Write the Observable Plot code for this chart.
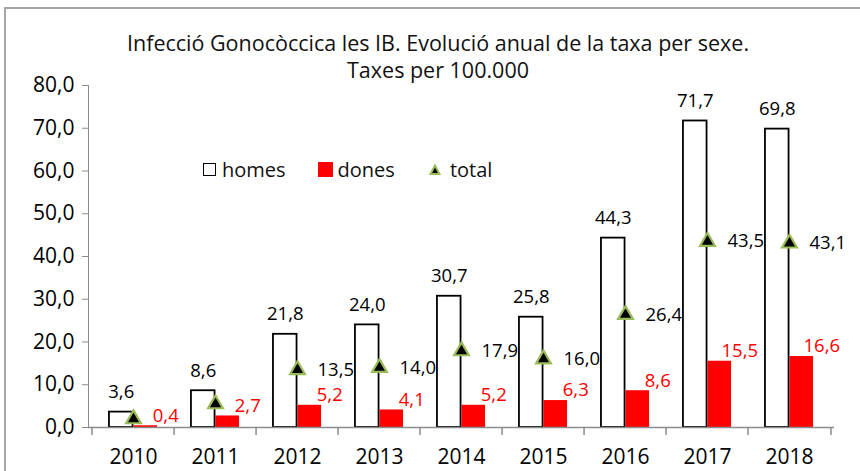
<!DOCTYPE html>
<html>
<head>
<meta charset="utf-8">
<script src="https://cdn.jsdelivr.net/npm/d3@7"></script>
<script src="https://cdn.jsdelivr.net/npm/@observablehq/plot@0.6"></script>
<style>
  html, body { margin: 0; padding: 0; background: #fff; }
  #wrap { position: relative; width: 860px; height: 471px; overflow: hidden; font-family: "Open Sans", sans-serif; }
  #frame { position: absolute; left: 4px; top: 7px; width: 900px; height: 520px; border: 2px solid #a6a6a6; box-sizing: border-box; }
  #title { position: absolute; left: 8px; top: 29px; width: 860px; text-align: center; font-size: 21.5px; line-height: 27px; color: #111; }
  #chart { position: absolute; left: 0; top: 0; }
  #chart svg [aria-label="y-axis tick label"] text, #chart svg [aria-label="x-axis tick label"] text { fill: #000; }
</style>
</head>
<body>
<div id="wrap">
  <div id="frame"></div>
  <div id="chart"></div>
  <div id="title">Infecció Gonocòccica les IB. Evolució anual de la taxa per sexe.<br>Taxes per 100.000</div>
</div>
<script>
const years = ["2010", "2011", "2012", "2013", "2014", "2015", "2016", "2017", "2018"];
const homes = [3.6, 8.6, 21.8, 24.0, 30.7, 25.8, 44.3, 71.7, 69.8];
const dones = [0.4, 2.7, 5.2, 4.1, 5.2, 6.3, 8.6, 15.5, 16.6];
const total = [2.0, 5.5, 13.5, 14.0, 17.9, 16.0, 26.4, 43.5, 43.1];
const totalLabelled = [false, false, true, true, true, true, true, true, true];
const yTicks = [0, 10, 20, 30, 40, 50, 60, 70, 80];

const data = years.map((year, i) => ({year, homes: homes[i], dones: dones[i], total: total[i], showTotal: totalLabelled[i]}));
const fmt = v => v.toFixed(1).replace(".", ",");

const W = 860, H = 471;
const bw = (834 - 88) / years.length; // band width in px
const half = bw / 2;
const barW = 24.5;

const plot = Plot.plot({
  width: W,
  height: H,
  marginLeft: 88,
  marginRight: 26,
  marginTop: 85,
  marginBottom: 44,
  style: { fontFamily: "Open Sans, sans-serif", fontSize: "21px", color: "#8c8c8c", background: "transparent", overflow: "visible" },
  x: { type: "band", domain: years, padding: 0, label: null, tickSize: 0, tickPadding: 22 },
  y: { domain: [0, 80], ticks: yTicks, tickFormat: fmt, label: null, tickSize: 6, tickPadding: 8, line: true },
  marks: [
    // bars
    Plot.barY(data, { x: "year", y: "homes", fill: "white", stroke: "black", strokeWidth: 1.8, insetLeft: half - barW, insetRight: half }),
    Plot.barY(data, { x: "year", y: "dones", fill: "#ff0000", insetLeft: half, insetRight: half - barW }),
    // x axis line and category ticks
    Plot.ruleY([0], { stroke: "#8c8c8c", strokeWidth: 1.5 }),
    Plot.ruleX(years, { x: d => d, dx: -half, y1: 0, y2: 0, insetBottom: -8, stroke: "#8c8c8c", strokeWidth: 1.5 }),
    Plot.ruleX(years.slice(-1), { x: d => d, dx: half, y1: 0, y2: 0, insetBottom: -8, stroke: "#8c8c8c", strokeWidth: 1.5 }),
    // total markers
    Plot.dot(data, { x: "year", y: "total", symbol: "triangle", r: 5.5, fill: "black", stroke: "#9bbb59", strokeWidth: 2.2 }),
    // labels
    Plot.text(data, { x: "year", y: "homes", text: d => fmt(d.homes), dx: -barW / 2, dy: -20, fill: "black", fontSize: 18.5 }),
    Plot.text(data, { x: "year", y: "dones", text: d => fmt(d.dones), dx: barW / 2 + 20, dy: -10, fill: "#ff0000", fontSize: 18.5 }),
    Plot.text(data.filter(d => d.showTotal), { x: "year", y: "total", text: d => fmt(d.total), dx: 20, textAnchor: "start", fill: "black", fontSize: 18.5 })
  ]
});
document.getElementById("chart").appendChild(plot);

// legend inside plot area (as HTML overlay)
const legend = document.createElement("div");
legend.style.cssText = "position:absolute;left:203px;top:156px;display:flex;align-items:center;font-size:20px;color:#111;";
legend.innerHTML =
  '<span style="display:inline-block;width:11px;height:11px;border:1.5px solid #000;margin-right:6px"></span><span style="margin-right:32px">homes</span>' +
  '<span style="display:inline-block;width:15px;height:15px;background:#ff0000;margin-right:5px"></span><span style="margin-right:34px">dones</span>' +
  '<svg width="12" height="12" style="margin-right:9px"><path d="M6,1.5 L10.5,10 L1.5,10 Z" fill="#000" stroke="#9bbb59" stroke-width="2"/></svg><span>total</span>';
document.getElementById("wrap").appendChild(legend);
</script>
</body>
</html>
